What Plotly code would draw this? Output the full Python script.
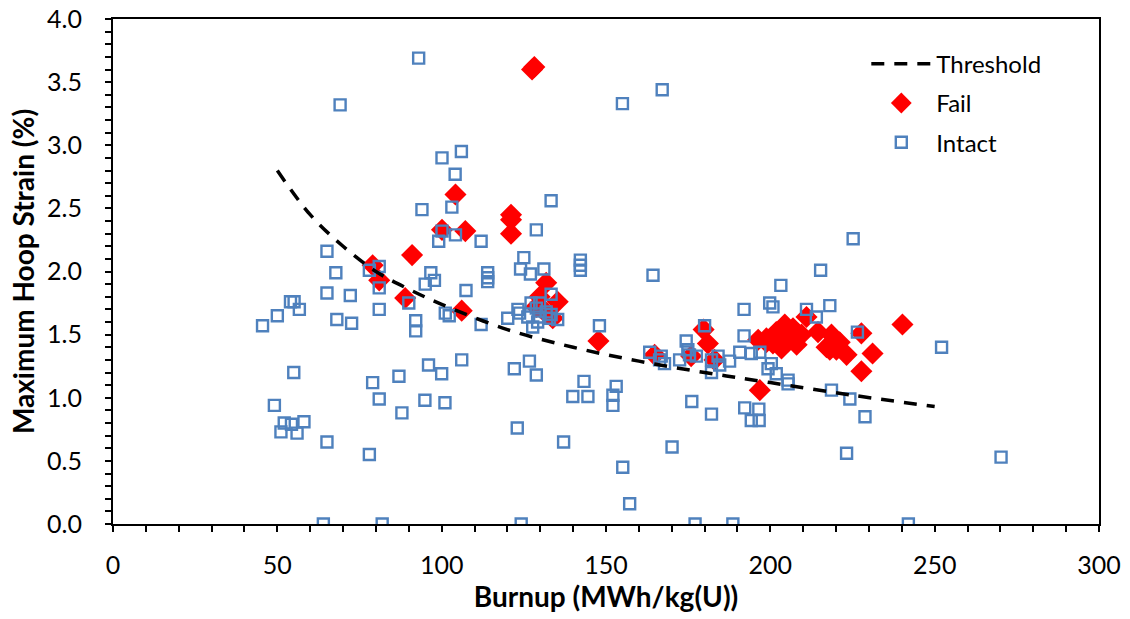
import plotly.graph_objects as go

# Threshold curve
thr_x = [50, 60, 70, 80, 90, 100, 120, 140, 160, 180, 200, 225, 250]
thr_y = [2.80, 2.45, 2.20, 2.00, 1.86, 1.74, 1.54, 1.40, 1.29, 1.20, 1.12, 1.02, 0.93]

fail_x = [79.0, 81.0, 88.9, 91.0, 100.1, 104.2, 107.2, 106.1, 121.1, 121.1, 121.1, 127.5, 128.2,
          131.8, 129.8, 135.3, 128.8, 131.8, 133.8, 130.8, 147.7, 164.8, 175.9, 179.7, 181.0,
          183.0, 196.8, 196.3, 198.8, 201.8, 204.4, 206.9, 201.8, 205.9, 209.5, 211.0, 214.5,
          218.6, 221.1, 218.1, 220.1, 223.2, 200.8, 203.4, 208.0, 217.1, 227.7, 227.7, 231.1,
          240.2, 198.8]
fail_y = [2.05, 1.93, 1.79, 2.13, 2.33, 2.61, 2.32, 1.69, 2.45, 2.41, 2.30, 3.60, 3.62,
          1.91, 1.80, 1.76, 1.72, 1.67, 1.63, 1.70, 1.45, 1.34, 1.33, 1.54, 1.43,
          1.30, 1.06, 1.46, 1.47, 1.50, 1.58, 1.55, 1.52, 1.47, 1.50, 1.64, 1.52,
          1.50, 1.44, 1.38, 1.38, 1.34, 1.43, 1.39, 1.42, 1.40, 1.51, 1.21, 1.35,
          1.58, 1.44]

intact_x = [45.5, 50.0, 54.0, 55.1, 56.7, 55.0, 49.1, 52.1, 54.3, 58.1, 51.1, 56.0, 65.1, 67.8,
            72.2, 68.1, 72.6, 65.1, 64.0, 81.9, 78.0, 79.0, 81.0, 87.0, 87.9, 96.0, 100.0, 94.9,
            101.0, 78.0, 81.0, 81.0, 81.0, 90.0, 92.1, 92.1, 96.7, 97.8, 95.0, 101.1, 102.3,
            93.0, 69.1, 100.1, 106.0, 104.1, 94.0, 103.1, 65.1, 99.1, 100.1, 104.2, 107.4,
            106.1, 112.0, 112.0, 114.0, 114.0, 114.0, 133.3, 128.8, 125.0, 124.0, 127.0, 131.1,
            142.2, 142.2, 142.2, 120.1, 123.2, 123.7, 133.3, 127.2, 129.8, 128.8, 126.2, 127.7,
            129.8, 131.8, 132.8, 135.3, 129.2, 133.3, 155.0, 167.1, 164.3, 148.0, 122.1, 126.7,
            128.8, 123.0, 124.2, 137.1, 143.3, 139.9, 144.5, 153.1, 152.1, 152.1, 155.1, 157.2,
            170.1, 176.1, 182.1, 177.1, 188.6, 192.0, 192.0, 199.8, 200.8, 174.4, 180.0, 163.3,
            166.8, 167.8, 166.3, 172.4, 175.4, 174.9, 177.5, 182.1, 182.1, 184.1, 184.6, 187.6,
            190.7, 194.2, 196.8, 192.2, 196.5, 194.2, 196.6, 199.3, 200.3, 201.8, 205.4, 205.4,
            203.2, 215.3, 218.1, 211.0, 214.0, 226.5, 252.1, 218.6, 224.2, 228.8, 223.2, 270.2,
            242.0, 225.2]
intact_y = [1.57, 1.65, 1.76, 1.76, 1.70, 1.20, 0.94, 0.80, 0.79, 0.81, 0.73, 0.72, 1.83, 1.99,
            1.81, 1.62, 1.59, 0.65, 0.0, 0.0, 0.55, 1.12, 0.99, 1.17, 0.88, 1.26, 1.19, 0.98,
            0.96, 2.01, 2.04, 1.87, 1.70, 1.75, 1.61, 1.53, 1.99, 1.93, 1.90, 1.67, 1.65,
            3.69, 3.32, 2.90, 2.95, 2.77, 2.49, 2.51, 2.16, 2.24, 2.32, 2.29, 1.85,
            1.30, 2.24, 1.58, 1.99, 1.95, 1.92, 2.56, 2.33, 2.11, 2.02, 1.98, 2.02,
            2.09, 2.05, 2.01, 1.63, 1.70, 1.67, 1.82, 1.75, 1.75, 1.71, 1.64, 1.56,
            1.64, 1.68, 1.63, 1.62, 1.60, 1.66, 3.33, 3.44, 1.97, 1.57, 1.23, 1.29,
            1.18, 0.76, 0.0, 0.65, 1.13, 1.01, 1.01, 1.09, 1.02, 0.94, 0.45, 0.16,
            0.61, 0.97, 0.87, 0.0, 0.0, 1.70, 1.49, 1.75, 1.72, 1.45, 1.57, 1.36,
            1.33, 1.27, 1.30, 1.30, 1.34, 1.38, 1.33, 1.30, 1.20, 1.33, 1.26, 1.29,
            1.36, 1.35, 1.36, 0.92, 0.91, 0.82, 0.82, 1.23, 1.27, 1.19, 1.14, 1.11,
            1.89, 2.01, 1.73, 1.70, 1.64, 1.52, 1.40, 1.06, 0.99, 0.85, 0.56, 0.53,
            0.0, 2.26]

x_ticks = [0, 50, 100, 150, 200, 250, 300]
y_ticks = [0.0, 0.5, 1.0, 1.5, 2.0, 2.5, 3.0, 3.5, 4.0]

FONT = "Lato, 'Open Sans', sans-serif"

fig = go.Figure()
fig.add_trace(go.Scatter(
    x=fail_x, y=fail_y, mode="markers", name="Fail", legendrank=2, legendgroup="b",
    marker=dict(symbol="diamond", size=17, color="#FF0000", line=dict(width=0)),
))
fig.add_trace(go.Scatter(
    x=intact_x, y=intact_y, mode="markers", name="Intact", legendrank=3, legendgroup="c",
    marker=dict(symbol="square-open", size=11, color="#4F81BD", line=dict(width=2.4, color="#4F81BD")),
))
fig.add_trace(go.Scatter(
    x=thr_x, y=thr_y, mode="lines", name="Threshold", legendrank=1, legendgroup="a",
    line=dict(color="black", width=3.5, dash="13px,10px", shape="spline"),
))

axis_common = dict(
    showline=True, linecolor="black", linewidth=2, mirror=True,
    showgrid=False, zeroline=False, automargin=False,
    ticks="outside", ticklen=6, tickwidth=2, tickcolor="black",
    tickfont=dict(family=FONT, size=25, color="black"),
)

fig.update_xaxes(
    range=[0, 300], tickvals=x_ticks, ticktext=[str(v) for v in x_ticks],
    minor=dict(dtick=10, ticks="outside", ticklen=6, tickwidth=1.5, tickcolor="black"),
    ticklabelstandoff=12,
    title=dict(text="<b>Burnup (MWh/kg(U))</b>", font=dict(family=FONT, size=28, color="black"), standoff=8),
    **axis_common,
)
fig.update_yaxes(
    range=[0, 4.0], tickvals=y_ticks, ticktext=[f"{v:.1f}" for v in y_ticks],
    minor=dict(dtick=0.1, ticks="outside", ticklen=6, tickwidth=1.5, tickcolor="black"),
    ticklabelstandoff=18,
    title=dict(text="<b>Maximum Hoop Strain (%)</b>", font=dict(family=FONT, size=28, color="black"), standoff=4),
    **axis_common,
)

fig.update_layout(
    width=1130, height=619,
    margin=dict(l=113, r=31, t=19, b=95),
    plot_bgcolor="white", paper_bgcolor="white",
    showlegend=True,
    legend=dict(
        x=0.764, y=0.955, xanchor="left", yanchor="top",
        font=dict(family=FONT, size=24, color="black"),
        bgcolor="rgba(0,0,0,0)", itemwidth=60, tracegroupgap=5, traceorder="grouped",
    ),
)

fig.write_html("out.html", config={"displayModeBar": False},
               post_script="document.body.style.margin='0';")
